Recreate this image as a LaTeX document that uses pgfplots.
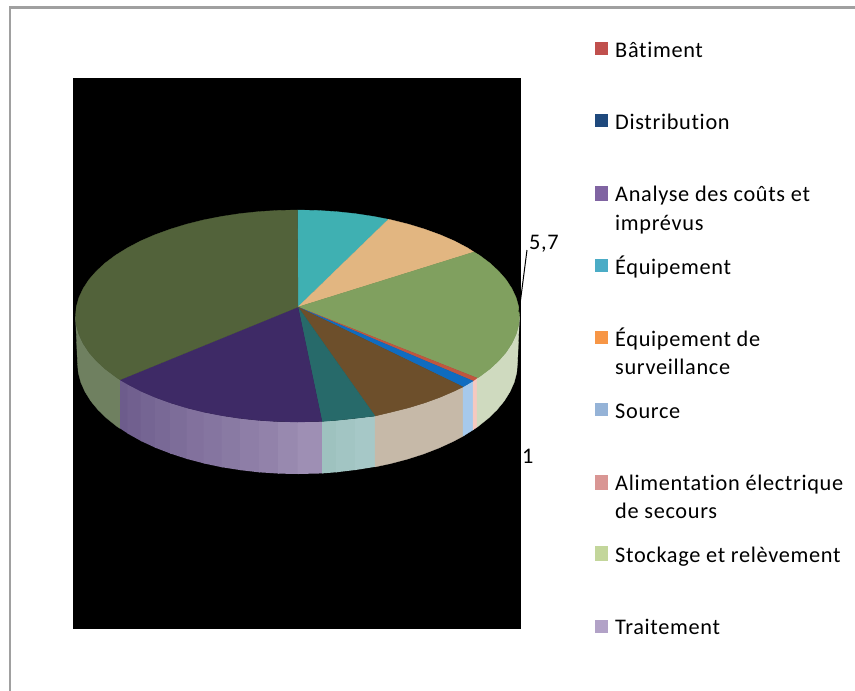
\documentclass[border=0pt]{standalone}
\usepackage{fontspec}
\setmainfont[LetterSpace=3,Ligatures=CommonOff]{Carlito}
\usepackage{pgfplots}
\pgfplotsset{compat=1.18}

% slice colours: top face
\definecolor{topOlive}{HTML}{52623A}
\definecolor{topTeal}{HTML}{3FB0B2}
\definecolor{topPeach}{HTML}{E2B681}
\definecolor{topGreen}{HTML}{80A05F}
\definecolor{topRed}{HTML}{C0563F}
\definecolor{topBlue}{HTML}{0F6CC0}
\definecolor{topBrown}{HTML}{6D4F2B}
\definecolor{topDarkTeal}{HTML}{276A6A}
\definecolor{topPurple}{HTML}{3E2A66}
% slice colours: rim
\definecolor{rimOlive}{HTML}{6F8060}
\definecolor{rimGreen}{HTML}{CFDABF}
\definecolor{rimPink}{HTML}{F5C9C0}
\definecolor{rimBlue}{HTML}{A6C9EC}
\definecolor{rimTan}{HTML}{C6B9A8}
\definecolor{rimTealA}{HTML}{9EC2BF}
\definecolor{rimTealB}{HTML}{A6C8C7}
\definecolor{rimPurpleA}{HTML}{6D5C8C}
\definecolor{rimPurpleB}{HTML}{9E8FB4}
% legend colours
\definecolor{lgRed}{HTML}{C0504D}
\definecolor{lgNavy}{HTML}{1F497D}
\definecolor{lgPurple}{HTML}{8064A2}
\definecolor{lgTeal}{HTML}{4BACC6}
\definecolor{lgOrange}{HTML}{F79646}
\definecolor{lgBlue}{HTML}{95B3D7}
\definecolor{lgPink}{HTML}{D99694}
\definecolor{lgGreen}{HTML}{C3D69B}
\definecolor{lgLilac}{HTML}{B2A2C7}
\definecolor{frameGrey}{HTML}{A0A0A0}

\pgfplotsset{
  slice/.style={fill=#1, draw=#1, line width=0.3pt},
  band/.style={fill=#1, draw=none},
}
\tikzset{
  legtext/.style={anchor=base west, inner sep=0pt, align=left,
    font=\fontsize{22.3}{29}\selectfont, text=black},
}

\begin{document}
\begin{tikzpicture}
\begin{axis}[
  scale only axis, width=855pt, height=691pt,
  xmin=0, xmax=855, ymin=0, ymax=691, y dir=reverse,
  hide axis, clip=true,
]
% page and outer frame
\addplot[fill=white, draw=none] coordinates {(0,0)(855,0)(855,691)(0,691)} --cycle;
\addplot[draw=frameGrey, line width=2.6pt] coordinates {(10,691)(10,7.5)(855,7.5)};
% plot area
\addplot[fill=black, draw=none] coordinates {(73,78)(521,78)(521,629)(73,629)} --cycle;

% rim, olive part
\addplot[slice=rimOlive] coordinates {(120,379.8)(115.6,376.8)(105.2,369)(96.3,360.8)(88.9,352.3)(83.1,343.4)(78.9,334.4)(76.3,325.2)(75.5,316)
  (77.5,363)(78.3,372.7)(80.8,382.3)(85,391.7)(90.8,401)(98.1,409.9)(107,418.5)(117.3,426.7)(120,428.4)} --cycle;
% rim, purple part: overlapping vertical bands, darker towards the left
\addplot[band=rimPurpleA] coordinates {(120,379.8)(128.4,384.1)(128.4,433.9)(120,428.4)} --cycle;
\addplot[band=rimPurpleB!8!rimPurpleA] coordinates {(127.4,384.1)(141.5,391)(141.5,441.3)(127.4,433.4)} --cycle;
\addplot[band=rimPurpleB!17!rimPurpleA] coordinates {(140.5,391)(155.8,397.2)(155.8,447.9)(140.5,440.8)} --cycle;
\addplot[band=rimPurpleB!25!rimPurpleA] coordinates {(154.8,397.2)(171.2,402.8)(171.2,453.8)(154.8,447.5)} --cycle;
\addplot[band=rimPurpleB!33!rimPurpleA] coordinates {(170.2,402.8)(187.5,407.8)(187.5,459.1)(170.2,453.5)} --cycle;
\addplot[band=rimPurpleB!42!rimPurpleA] coordinates {(186.5,407.8)(204.7,412.1)(204.7,463.6)(186.5,458.8)} --cycle;
\addplot[band=rimPurpleB!50!rimPurpleA] coordinates {(203.7,412.1)(222.6,415.6)(222.6,467.4)(203.7,463.4)} --cycle;
\addplot[band=rimPurpleB!58!rimPurpleA] coordinates {(221.6,415.6)(241,418.4)(241,470.2)(221.6,467.2)} --cycle;
\addplot[band=rimPurpleB!67!rimPurpleA] coordinates {(240,418.4)(259.9,420.4)(259.9,472.4)(240,470.1)} --cycle;
\addplot[band=rimPurpleB!75!rimPurpleA] coordinates {(258.9,420.4)(279.2,421.6)(279.2,473.6)(258.9,472.3)} --cycle;
\addplot[band=rimPurpleB!88!rimPurpleA] coordinates {(278.2,421.6)(298.5,422)(298.5,474)(278.2,473.6)} --cycle;
\addplot[band=rimPurpleB] coordinates {(297.5,422)(323,421.4)(323,473.4)(297.5,474)} --cycle;
% rim, teal part
\addplot[band=rimTealA] coordinates {(322,421.4)(337.1,420.4)(337.1,472.2)(322,473.4)} --cycle;
\addplot[band=rimTealB!50!rimTealA] coordinates {(336.1,420.4)(356,418.4)(356,469.9)(336.1,472.3)} --cycle;
\addplot[band=rimTealB] coordinates {(355,418.4)(376,416)(376,466.7)(355,470.1)} --cycle;
% rim, tan part
\addplot[slice=rimTan] coordinates {(375,416)(391.3,412.1)(408.5,407.8)(424.8,402.8)(440.2,397.2)(454.5,391)(463,386.9)
  (463,436.2)(453.1,441.5)(438.9,448)(423.7,453.9)(407.5,459.1)(390.5,463.6)(375,466.9)} --cycle;
% rim, narrow slices
\addplot[slice=rimBlue] coordinates {(463,386.9)(473,381)(473,429.9)(463,436.2)} --cycle;
\addplot[slice=rimPink] coordinates {(473,381)(477,378)(477,427.2)(473,429.9)} --cycle;
% rim, pale green part
\addplot[slice=rimGreen] coordinates {(477,378)(479.4,376.8)(489.8,369)(498.7,360.8)(506.1,352.3)(511.9,343.4)(516.1,334.4)(518.7,325.2)(519.5,316)
  (517.5,363)(516.7,372.7)(514.2,382.3)(510,391.7)(504.2,401)(496.9,409.9)(488,418.5)(477.7,426.7)(477,427.2)} --cycle;

% top face, clockwise from twelve o'clock
\addplot[slice=topTeal] coordinates {(298,307)(297.5,210)(316.8,210.4)(336.1,211.6)(355,213.6)(373.4,216.4)(388.5,219.3)} --cycle;
\addplot[slice=topPeach] coordinates {(298,307)(388.5,219.3)(391.3,219.9)(408.5,224.2)(424.8,229.2)(440.2,234.8)(454.5,241)(467.6,247.9)(474,252)} --cycle;
\addplot[slice=topGreen] coordinates {(298,307)(474,252)(479.4,255.2)(489.8,263)(498.7,271.2)(506.1,279.7)(511.9,288.6)(516.1,297.6)(518.7,306.8)(519.5,316)(518.7,325.2)(516.1,334.4)(511.9,343.4)(506.1,352.3)(498.7,360.8)(489.8,369)(479.4,376.8)(477,378)} --cycle;
\addplot[slice=topRed] coordinates {(298,307)(477,378)(473,381)} --cycle;
\addplot[slice=topBlue] coordinates {(298,307)(473,381)(463,386.9)} --cycle;
\addplot[slice=topBrown] coordinates {(298,307)(463,386.9)(454.5,391)(440.2,397.2)(424.8,402.8)(408.5,407.8)(391.3,412.1)(375,416)} --cycle;
\addplot[slice=topDarkTeal] coordinates {(298,307)(375,416)(355,418.4)(336.1,420.4)(322,421.4)} --cycle;
\addplot[slice=topPurple] coordinates {(298,307)(322,421.4)(316.8,421.6)(297.5,422)(278.2,421.6)(258.9,420.4)(240,418.4)(221.6,415.6)(203.7,412.1)(186.5,407.8)(170.2,402.8)(154.8,397.2)(140.5,391)(127.4,384.1)(120,379.8)} --cycle;
\addplot[slice=topOlive] coordinates {(298,307)(120,379.8)(115.6,376.8)(105.2,369)(96.3,360.8)(88.9,352.3)(83.1,343.4)(78.9,334.4)(76.3,325.2)(75.5,316)(76.3,306.8)(78.9,297.6)(83.1,288.6)(88.9,279.7)(96.3,271.2)(105.2,263)(115.6,255.2)(127.4,247.9)(140.5,241)(154.8,234.8)(170.2,229.2)(186.5,224.2)(203.7,219.9)(221.6,216.4)(240,213.6)(258.9,211.6)(278.2,210.4)(297.5,210)} --cycle;

% value labels and leader
\addplot[draw=black, line width=1pt] coordinates {(527,250)(519,312)};
\node[legtext] at (axis cs:529,249) {5,7};
\node[legtext] at (axis cs:522,463) {1};

% legend swatches
\addplot[fill=lgRed, draw=none] coordinates {(595,42)(608,42)(608,55)(595,55)} --cycle;
\addplot[fill=lgNavy, draw=none] coordinates {(595,114)(608,114)(608,127)(595,127)} --cycle;
\addplot[fill=lgPurple, draw=none] coordinates {(595,186)(608,186)(608,201)(595,201)} --cycle;
\addplot[fill=lgTeal, draw=none] coordinates {(595,259)(608,259)(608,272)(595,272)} --cycle;
\addplot[fill=lgOrange, draw=none] coordinates {(595,331)(608,331)(608,344)(595,344)} --cycle;
\addplot[fill=lgBlue, draw=none] coordinates {(595,403)(608,403)(608,416)(595,416)} --cycle;
\addplot[fill=lgPink, draw=none] coordinates {(595,475)(608,475)(608,490)(595,490)} --cycle;
\addplot[fill=lgGreen, draw=none] coordinates {(595,546)(608,546)(608,561)(595,561)} --cycle;
\addplot[fill=lgLilac, draw=none] coordinates {(595,620)(608,620)(608,633)(595,633)} --cycle;

% legend entries
\node[legtext] at (axis cs:615,57) {Bâtiment};
\node[legtext] at (axis cs:615,129) {Distribution};
\node[legtext] at (axis cs:615,201) {Analyse des coûts et};
\node[legtext] at (axis cs:615,230) {imprévus};
\node[legtext] at (axis cs:615,274) {Équipement};
\node[legtext] at (axis cs:615,346) {Équipement de};
\node[legtext] at (axis cs:615,374) {surveillance};
\node[legtext] at (axis cs:615,418) {Source};
\node[legtext] at (axis cs:615,490) {Alimentation électrique};
\node[legtext] at (axis cs:615,518) {de secours};
\node[legtext] at (axis cs:615,562) {Stockage et relèvement};
\node[legtext] at (axis cs:615,634) {Traitement};
\end{axis}
\end{tikzpicture}
\end{document}
